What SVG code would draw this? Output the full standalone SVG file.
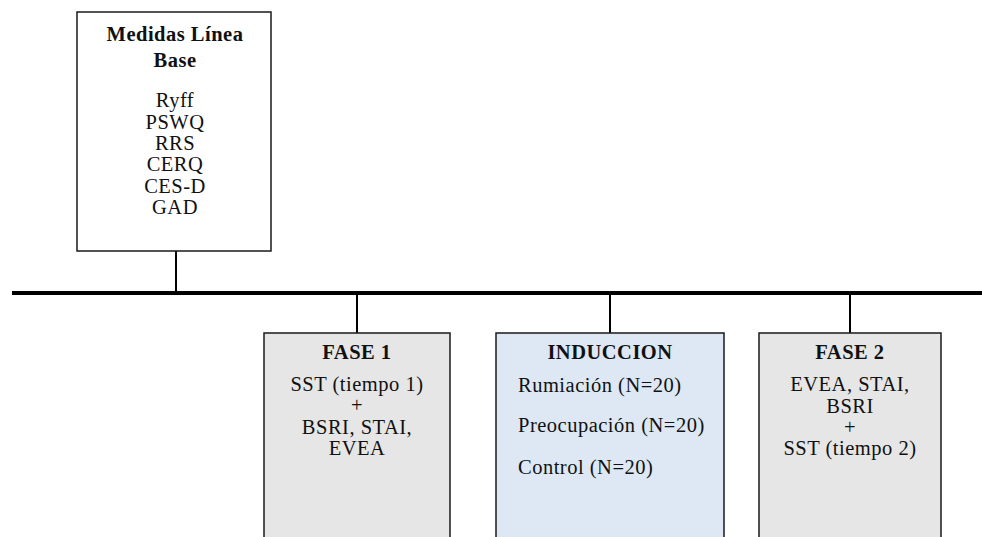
<svg xmlns="http://www.w3.org/2000/svg" width="982" height="537" viewBox="0 0 982 537">
<style>
text{font-family:"Liberation Serif","Times New Roman",serif;font-size:20.5px;letter-spacing:0.5px;fill:#111;text-anchor:middle}
.b{font-weight:bold}
.l{text-anchor:start}
.box{stroke:#1a1a1a;stroke-width:1.5}
.conn{stroke:#000;stroke-width:2;fill:none}
</style>
<rect width="982" height="537" fill="#fff"/>
<g id="connectors">
<line class="conn" x1="12" y1="293" x2="982" y2="293" style="stroke-width:4"/>
<line class="conn" x1="176" y1="251" x2="176" y2="293"/>
<line class="conn" x1="357" y1="293" x2="357" y2="333"/>
<line class="conn" x1="610" y1="293" x2="610" y2="333"/>
<line class="conn" x1="850" y1="293" x2="850" y2="333"/>
</g>
<g id="baseline">
<rect class="box" x="77" y="12" width="194" height="239" fill="#fff"/>
<text class="b" x="175" y="41">Medidas Línea</text>
<text class="b" x="175" y="67">Base</text>
<text x="175" y="107">Ryff</text>
<text x="175" y="129">PSWQ</text>
<text x="175" y="150">RRS</text>
<text x="175" y="171">CERQ</text>
<text x="175" y="193">CES-D</text>
<text x="175" y="214">GAD</text>
</g>
<g id="fase1">
<rect class="box" x="264" y="333" width="186" height="220" fill="#e6e6e6"/>
<text class="b" x="357" y="359">FASE 1</text>
<text x="357" y="391">SST (tiempo 1)</text>
<text x="357" y="412">+</text>
<text x="357" y="434">BSRI, STAI,</text>
<text x="357" y="455">EVEA</text>
</g>
<g id="induccion">
<rect class="box" x="496" y="333" width="228" height="220" fill="#dde8f4"/>
<text class="b" x="610" y="359">INDUCCION</text>
<text class="l" x="518" y="392">Rumiación (N=20)</text>
<text class="l" x="518" y="432">Preocupación (N=20)</text>
<text class="l" x="518" y="474">Control (N=20)</text>
</g>
<g id="fase2">
<rect class="box" x="759" y="333" width="182" height="220" fill="#e6e6e6"/>
<text class="b" x="850" y="359">FASE 2</text>
<text x="850" y="391">EVEA, STAI,</text>
<text x="850" y="413">BSRI</text>
<text x="850" y="434">+</text>
<text x="850" y="455">SST (tiempo 2)</text>
</g>
</svg>
